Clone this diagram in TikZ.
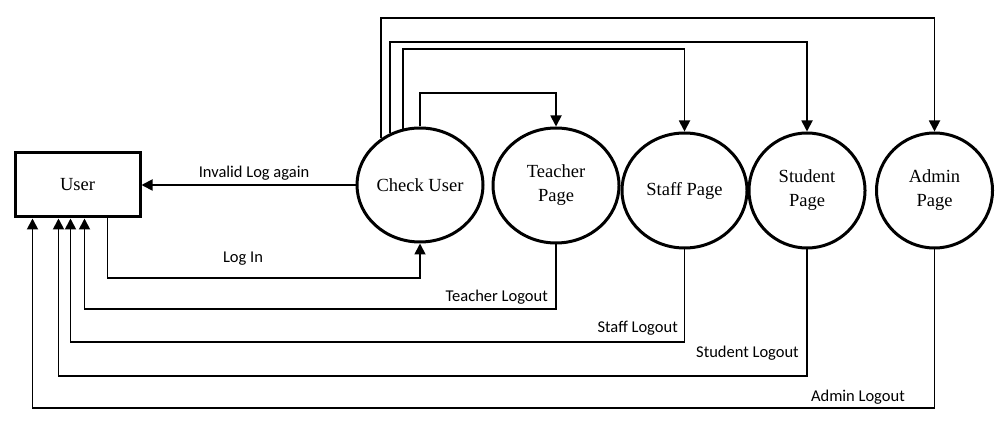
\documentclass[tikz,border=0pt]{standalone}
\usepackage{fontspec}
\setmainfont{Liberation Serif}
\newfontfamily\lblfont{Carlito}
\usetikzlibrary{arrows.meta,shapes.geometric}
\begin{document}
\begin{tikzpicture}[x=1pt,y=-1pt,
  proc/.style={ellipse,draw,line width=3pt,inner sep=0pt,align=center,
    font=\fontsize{18.5}{24}\selectfont},
  entity/.style={rectangle,draw,line width=3pt,inner sep=0pt,
    minimum width=125pt,minimum height=64pt,font=\fontsize{18.5}{24}\selectfont},
  flow/.style={line width=1.8pt,-{Triangle[length=11pt,width=11pt]}},
  lbl/.style={inner sep=0pt,font=\lblfont\fontsize{16.5}{20}\selectfont}]
\useasboundingbox (0,0) rectangle (1000,443);
\fill[white] (0,0) rectangle (1000,443);
% nodes
\node[entity] (user) at (77.5,185) {User};
\node[proc,minimum width=126pt,minimum height=114pt] (check) at (420,185) {Check User};
\node[proc,minimum width=126pt,minimum height=115pt] (teacher) at (556,185.5) {Teacher\\Page};
\node[proc,minimum width=125pt,minimum height=115pt] (staff) at (684.5,190.5) {Staff Page};
\node[proc,minimum width=116pt,minimum height=115pt] (student) at (807,190.5) {Student\\Page};
\node[proc,minimum width=116pt,minimum height=115pt] (admin) at (934.5,190.5) {Admin\\Page};
% lane coordinates
\coordinate (laneA) at (0,18);
\coordinate (laneS) at (0,42);
\coordinate (laneF) at (0,49);
\coordinate (laneT) at (0,93);
\coordinate (lanein) at (0,278);
\coordinate (outT) at (0,309);
\coordinate (outF) at (0,342);
\coordinate (outS) at (0,376);
\coordinate (outA) at (0,408);
% connectors from Check User
\draw[flow] (check.west) -- (user.east);
\draw[flow] (check.north) -- (check.north |- laneT) -| (teacher.north);
\draw[flow] (check.107) -- (check.107 |- laneF) -| (staff.north);
\draw[flow] (check.120) -- (check.120 |- laneS) -| (student.north);
\draw[flow] (check.130) -- (check.130 |- laneA) -| (admin.north);
% log in
\draw[flow] ([xshift=94pt]user.south west) -- ([xshift=94pt]user.south west |- lanein) -| (check.south);
% logouts
\draw[flow] (teacher.south) -- (teacher.south |- outT) -| ([xshift=71pt]user.south west);
\draw[flow] (staff.south) -- (staff.south |- outF) -| ([xshift=57pt]user.south west);
\draw[flow] (student.south) -- (student.south |- outS) -| ([xshift=45pt]user.south west);
\draw[flow] (admin.south) -- (admin.south |- outA) -| ([xshift=19pt]user.south west);
% labels
\node[lbl] (linvalid) at (254,173) {Invalid Log again};
\node[lbl] (llogin) at (243,259) {Log In};
\node[lbl,anchor=east] (lteacher) at (548,297) {Teacher Logout};
\node[lbl,anchor=east] (lstaff) at (678,328) {Staff Logout};
\node[lbl,anchor=east] (lstudent) at (799,353) {Student Logout};
\node[lbl,anchor=east] (ladmin) at (905,397) {Admin Logout};
\end{tikzpicture}
\end{document}
